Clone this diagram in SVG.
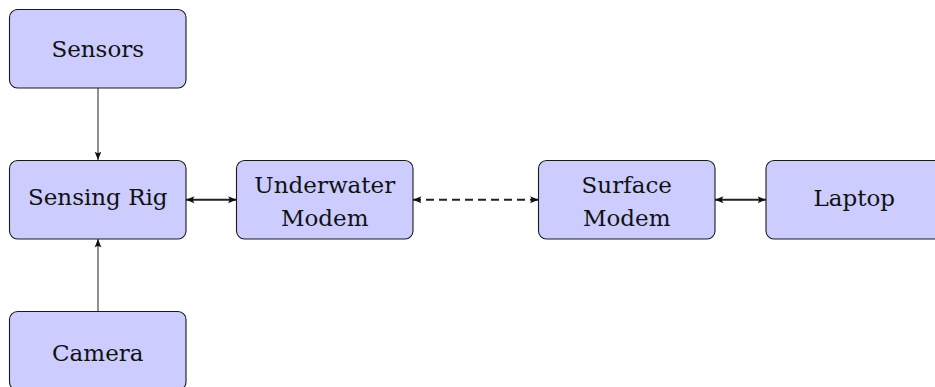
<svg xmlns="http://www.w3.org/2000/svg" width="935" height="387" viewBox="0 0 935 387">
<style>
.box{fill:#ccccff;stroke:#1a1a1a;stroke-width:1.1}
.lbl{font-family:'DejaVu Serif',serif;font-size:23px;fill:#111;text-anchor:middle}
.thin{stroke:#222;stroke-width:1;fill:none}
.thick{stroke:#222;stroke-width:1.8;fill:none}
.dash{stroke-dasharray:8 5}
</style>
<defs>
<marker id="ah" markerUnits="userSpaceOnUse" markerWidth="10" markerHeight="8" refX="8.5" refY="4" orient="auto-start-reverse" viewBox="0 0 10 8">
<path d="M0,0.6 Q3,4 0,7.4 L8.5,4 Z" fill="#111"/>
</marker>
</defs>
<g id="connectors">
<line class="thin" x1="98" y1="88" x2="98" y2="160" marker-end="url(#ah)"/>
<line class="thin" x1="98" y1="311.5" x2="98" y2="239" marker-end="url(#ah)"/>
<line class="thick" x1="186" y1="199.75" x2="236.5" y2="199.75" marker-start="url(#ah)" marker-end="url(#ah)"/>
<line class="thick dash" x1="413" y1="199.75" x2="538.5" y2="199.75" marker-start="url(#ah)" marker-end="url(#ah)"/>
<line class="thick" x1="715" y1="199.75" x2="766" y2="199.75" marker-start="url(#ah)" marker-end="url(#ah)"/>
</g>
<g id="sensors">
<rect class="box" x="9.5" y="9.5" width="176.5" height="78.5" rx="8"/>
<text class="lbl" x="97.75" y="57">Sensors</text>
</g>
<g id="sensing-rig">
<rect class="box" x="9.5" y="160.5" width="176.5" height="78.5" rx="8"/>
<text class="lbl" x="97.75" y="205">Sensing Rig</text>
</g>
<g id="camera">
<rect class="box" x="9.5" y="311.5" width="176.5" height="78.5" rx="8"/>
<text class="lbl" x="97.75" y="360.5">Camera</text>
</g>
<g id="underwater-modem">
<rect class="box" x="236.5" y="160.5" width="176.5" height="78.5" rx="8"/>
<text class="lbl" x="324.75" y="193.3">Underwater</text>
<text class="lbl" x="324.75" y="225.7">Modem</text>
</g>
<g id="surface-modem">
<rect class="box" x="538.5" y="160.5" width="176.5" height="78.5" rx="8"/>
<text class="lbl" x="626.75" y="193.3">Surface</text>
<text class="lbl" x="626.75" y="225.7">Modem</text>
</g>
<g id="laptop">
<rect class="box" x="766" y="160.5" width="176.5" height="78.5" rx="8"/>
<text class="lbl" x="854.25" y="206">Laptop</text>
</g>
</svg>
